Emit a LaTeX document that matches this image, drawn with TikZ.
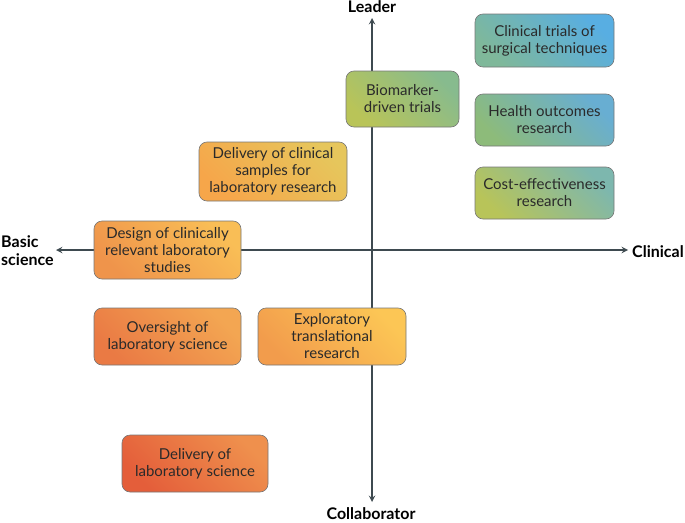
\documentclass[tikz,border=0pt]{standalone}
\usepackage{fontspec}
\setmainfont{Lato}
\usetikzlibrary{arrows,positioning,shadings}
\definecolor{axisgray}{HTML}{3E4A50}
\definecolor{edgegray}{HTML}{767676}
\definecolor{txt}{HTML}{2A2A2A}
% gradient ends, lower left (a) and upper right (b)
\definecolor{cta}{HTML}{7FB89A}\definecolor{ctb}{HTML}{58AEE2}
\definecolor{hoa}{HTML}{8DBB7A}\definecolor{hob}{HTML}{68AED2}
\definecolor{cea}{HTML}{B8C459}\definecolor{ceb}{HTML}{7DB7AE}
\definecolor{bma}{HTML}{B9C458}\definecolor{bmb}{HTML}{87BB8E}
\definecolor{dcsa}{HTML}{F6A64A}\definecolor{dcsb}{HTML}{E6C65C}
\definecolor{dcra}{HTML}{EF944B}\definecolor{dcrb}{HTML}{F9BE56}
\definecolor{ola}{HTML}{EA7A44}\definecolor{olb}{HTML}{F3A652}
\definecolor{etra}{HTML}{F29C4C}\definecolor{etrb}{HTML}{FCC655}
\definecolor{dlsa}{HTML}{E45E3A}\definecolor{dlsb}{HTML}{EF904D}

\begin{document}
\begin{tikzpicture}[x=1pt,y=-1pt,>=stealth,
  box/.style={draw=edgegray,line width=0.6pt,rounded corners=8pt,
    align=center,text=txt,inner sep=2pt,
    font=\fontsize{15}{17}\selectfont},
  grad/.style 2 args={bottom color=#1,top color=#2,shading angle=-45},
  lbl/.style={font=\fontsize{16}{18}\selectfont\bfseries,text=black,inner sep=1pt},
  ax/.style={draw=axisgray,line width=1.8pt,->}]
\useasboundingbox (0,0) rectangle (685,522);

% axes
\coordinate (o) at (372,250);
\coordinate (top) at (372,18);
\coordinate (bot) at (372,502);
\coordinate (lft) at (56,250);
\coordinate (rgt) at (628,250);
\path (o) edge[ax] (top) edge[ax] (bot) edge[ax] (lft) edge[ax] (rgt);

\node[lbl] (lead) at (372,7) {Leader};
\node[lbl] (coll) at (371,514) {Collaborator};
\node[lbl,anchor=west] (clin) at (631,252) {Clinical};
\node[lbl,anchor=west,align=left] (basic) at (0,251) {Basic\\science};

% boxes
\node[box,minimum width=139pt,minimum height=53pt,grad={cta}{ctb}]
  (ct) at (544.5,40.5) {Clinical trials of\\surgical techniques};
\node[box,minimum width=139pt,minimum height=52pt,grad={hoa}{hob}]
  (ho) at (544.5,120) {Health outcomes\\research};
\node[box,minimum width=139pt,minimum height=52pt,grad={cea}{ceb}]
  (ce) at (544.5,193) {Cost-effectiveness\\research};
\node[box,minimum width=113pt,minimum height=56pt,grad={bma}{bmb}]
  (bm) at (402.5,99) {Biomarker-\\driven trials};
\node[box,minimum width=148pt,minimum height=59pt,grad={dcsa}{dcsb}]
  (dcs) at (273,171.5) {Delivery of clinical\\samples for\\laboratory research};
\node[box,minimum width=147pt,minimum height=58pt,grad={dcra}{dcrb}]
  (dcr) at (167.5,250) {Design of clinically\\relevant laboratory\\studies};
\node[box,minimum width=147pt,minimum height=57pt,grad={ola}{olb}]
  (ol) at (167.5,336.5) {Oversight of\\laboratory science};
\node[box,minimum width=148pt,minimum height=57pt,grad={etra}{etrb}]
  (etr) at (332,336.5) {Exploratory\\translational\\research};
\node[box,minimum width=146pt,minimum height=57pt,grad={dlsa}{dlsb}]
  (dls) at (195,463.5) {Delivery of\\laboratory science};
\end{tikzpicture}
\end{document}
